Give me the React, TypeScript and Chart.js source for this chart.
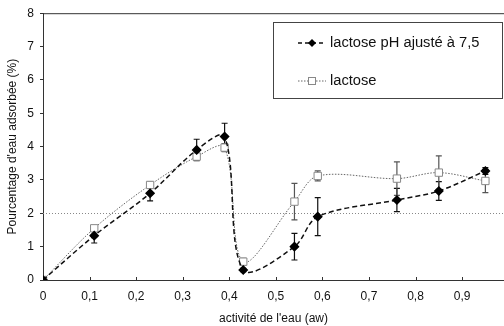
import React, { useEffect, useRef } from "react";
import { Chart, registerables } from "chart.js";
Chart.register(...registerables);

const aw = [0, 0.11, 0.23, 0.33, 0.39, 0.43, 0.54, 0.59, 0.76, 0.85, 0.95];
const phAdjusted = [0, 1.33, 2.6, 3.9, 4.3, 0.3, 1.0, 1.9, 2.4, 2.67, 3.27];
const phAdjustedErr = [0, 0.22, 0.23, 0.32, 0.4, 0.05, 0.4, 0.57, 0.35, 0.28, 0.1];
const lactose = [0, 1.55, 2.85, 3.7, 3.97, 0.55, 2.35, 3.12, 3.04, 3.22, 2.97];
const lactoseErr = [0, 0.06, 0.1, 0.1, 0.12, 0.1, 0.55, 0.15, 0.5, 0.5, 0.35];
const seriesNames = ["lactose pH ajusté à 7,5", "lactose"];
const xTitle = "activité de l'eau (aw)";
const yTitle = "Pourcentage d'eau adsorbée (%)";
const refLine = 2;

const FONT = "'Liberation Sans', Arial, sans-serif";

const errorBars = {
  id: "errorBars",
  beforeDatasetsDraw(chart: any) {
    const ctx = chart.ctx;
    const xs = chart.scales.x;
    const ys = chart.scales.y;
    const sets = [
      { v: phAdjusted, e: phAdjustedErr, c: "#111" },
      { v: lactose, e: lactoseErr, c: "#555" },
    ];
    ctx.save();
    sets.forEach((s) => {
      ctx.strokeStyle = s.c;
      ctx.lineWidth = 1.2;
      aw.forEach((x, i) => {
        if (!s.e[i]) return;
        const px = xs.getPixelForValue(x);
        const y1 = ys.getPixelForValue(s.v[i] + s.e[i]);
        const y2 = ys.getPixelForValue(s.v[i] - s.e[i]);
        ctx.beginPath();
        ctx.moveTo(px, y1);
        ctx.lineTo(px, y2);
        ctx.moveTo(px - 3, y1);
        ctx.lineTo(px + 3, y1);
        ctx.moveTo(px - 3, y2);
        ctx.lineTo(px + 3, y2);
        ctx.stroke();
      });
    });
    ctx.restore();
  },
};

const frame = {
  id: "frame",
  beforeDatasetsDraw(chart: any) {
    const { ctx, chartArea } = chart;
    const ys = chart.scales.y;
    const xs = chart.scales.x;
    ctx.save();
    ctx.strokeStyle = "#888";
    ctx.lineWidth = 1;
    ctx.setLineDash([1, 2]);
    const py = Math.round(ys.getPixelForValue(refLine)) + 0.5;
    ctx.beginPath();
    ctx.moveTo(chartArea.left, py);
    ctx.lineTo(chart.width, py);
    ctx.stroke();
    ctx.setLineDash([]);
    ctx.strokeStyle = "#333";
    ctx.beginPath();
    ctx.moveTo(chartArea.left, chartArea.top + 0.5);
    ctx.lineTo(chart.width, chartArea.top + 0.5);
    ctx.stroke();
    ctx.beginPath();
    xs.ticks.forEach((t: any) => {
      if (t.value <= 0 || t.value > 0.95) return;
      const px = Math.round(xs.getPixelForValue(t.value)) + 0.5;
      ctx.moveTo(px, chartArea.bottom);
      ctx.lineTo(px, chartArea.bottom - 3);
    });
    ctx.stroke();
    ctx.restore();
  },
};

const legendBox = {
  id: "legendBox",
  afterDraw(chart: any) {
    const ctx = chart.ctx;
    ctx.save();
    const bx = 273, by = 22, bw = 229, bh = 76;
    ctx.fillStyle = "#fff";
    ctx.fillRect(bx, by, bw, bh);
    ctx.strokeStyle = "#444";
    ctx.lineWidth = 1;
    ctx.strokeRect(bx + 0.5, by + 0.5, bw, bh);
    const rows = [
      { y: 43, dash: [4, 3], color: "#111", w: 1.5, marker: "diamond" },
      { y: 81, dash: [1.5, 1.5], color: "#666", w: 1, marker: "square" },
    ];
    rows.forEach((r, i) => {
      ctx.setLineDash(r.dash);
      ctx.strokeStyle = r.color;
      ctx.lineWidth = r.w;
      ctx.beginPath();
      ctx.moveTo(298, r.y);
      ctx.lineTo(326, r.y);
      ctx.stroke();
      ctx.setLineDash([]);
      const cx = 312;
      if (r.marker === "diamond") {
        ctx.fillStyle = "#000";
        ctx.beginPath();
        ctx.moveTo(cx, r.y - 4);
        ctx.lineTo(cx + 4, r.y);
        ctx.lineTo(cx, r.y + 4);
        ctx.lineTo(cx - 4, r.y);
        ctx.closePath();
        ctx.fill();
      } else {
        ctx.fillStyle = "#fff";
        ctx.strokeStyle = "#888";
        ctx.lineWidth = 1;
        ctx.fillRect(cx - 4, r.y - 4, 8, 8);
        ctx.strokeRect(cx - 3.5, r.y - 3.5, 7, 7);
      }
      ctx.fillStyle = "#111";
      ctx.font = `14.7px ${FONT}`;
      ctx.textBaseline = "middle";
      ctx.textAlign = "left";
      ctx.fillText(seriesNames[i], 330, r.y);
    });
    ctx.restore();
  },
};

export default function App() {
  const ref = useRef<HTMLCanvasElement>(null);
  useEffect(() => {
    document.body.style.margin = "0";
    const chart = new Chart(ref.current!, {
      type: "line",
      data: {
        datasets: [
          {
            label: seriesNames[0],
            data: aw.map((x, i) => ({ x, y: phAdjusted[i] })),
            borderColor: "#111",
            borderWidth: 1.5,
            borderDash: [5, 3],
            pointStyle: "rectRot",
            pointRadius: 4,
            pointBackgroundColor: "#000",
            pointBorderColor: "#000",
            tension: 0.33,
          },
          {
            label: seriesNames[1],
            data: aw.map((x, i) => ({ x, y: lactose[i] })),
            borderColor: "#666",
            borderWidth: 1,
            borderDash: [1.5, 1.5],
            pointStyle: "rect",
            pointRadius: 5.2,
            pointBackgroundColor: "#fff",
            pointBorderColor: "#888",
            pointBorderWidth: 1,
            tension: 0.33,
          },
        ],
      },
      options: {
        animation: false,
        responsive: false,
        maintainAspectRatio: false,
        layout: { autoPadding: false, padding: { left: 0, top: 13, right: 0, bottom: 0 } },
        plugins: { legend: { display: false }, tooltip: { enabled: false } },
        scales: {
          x: {
            type: "linear",
            min: 0,
            max: 0.99,
            afterFit: (s: any) => {
              s.height = 46;
              s.paddingRight = 0;
            },
            border: { color: "#333", width: 1 },
            grid: { drawOnChartArea: false, drawTicks: false },
            ticks: {
              stepSize: 0.1,
              includeBounds: false,
              padding: 9,
              color: "#111",
              font: { family: FONT, size: 12 },
              maxRotation: 0,
              callback: (v: any) => {
                const n = Number(v);
                if (n > 0.95) return "";
                return n === 0 ? "0" : n.toFixed(1).replace(".", ",");
              },
            },
            title: {
              display: true,
              text: xTitle,
              color: "#111",
              font: { family: FONT, size: 12 },
              padding: { top: 0, bottom: 0 },
            },
          },
          y: {
            min: 0,
            max: 8,
            afterFit: (s: any) => { s.width = 43; },
            border: { color: "#333", width: 1 },
            grid: { drawOnChartArea: false, drawTicks: true, tickLength: 3, tickColor: "#333" },
            ticks: {
              stepSize: 1,
              padding: 6,
              color: "#111",
              font: { family: FONT, size: 12 },
            },
            title: {
              display: true,
              text: yTitle,
              color: "#111",
              font: { family: FONT, size: 12 },
              padding: { top: 5, bottom: 0 },
            },
          },
        },
      },
      plugins: [frame, errorBars, legendBox],
    });
    return () => chart.destroy();
  }, []);
  return (
    <div style={{ width: 504, height: 326 }}>
      <canvas ref={ref} width={504} height={326} style={{ display: "block" }} />
    </div>
  );
}
